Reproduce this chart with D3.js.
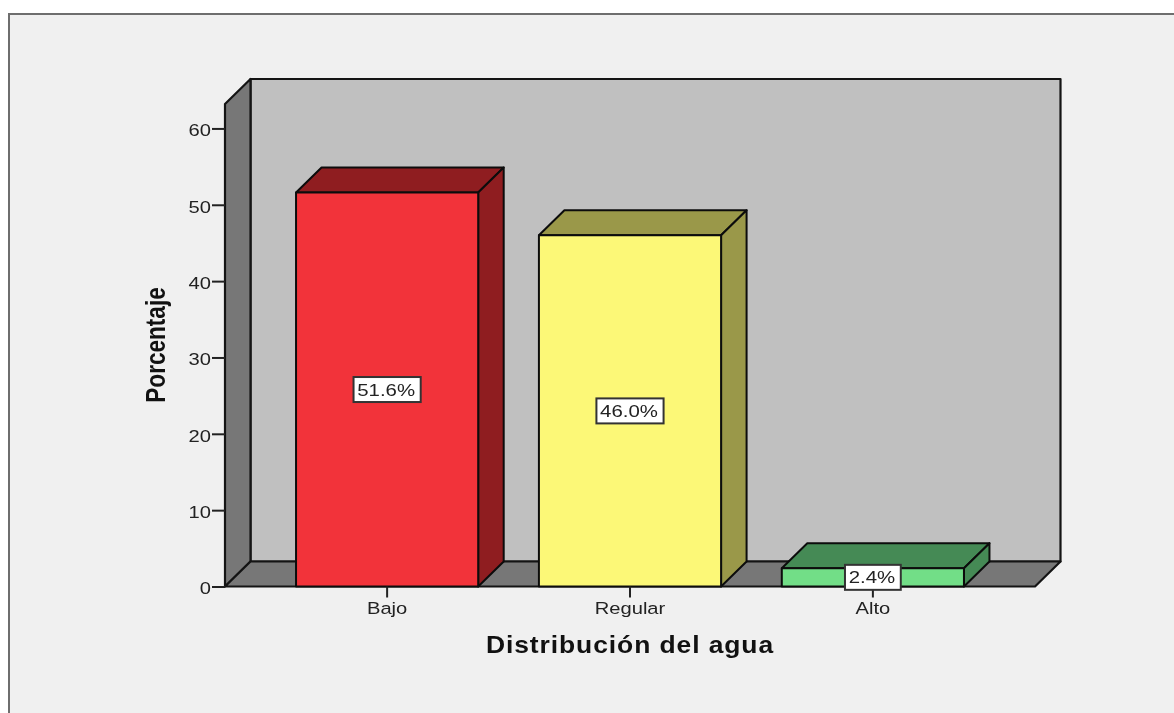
<!DOCTYPE html>
<html lang="en">
<head>
<meta charset="utf-8">
<title>Distribución del agua</title>
<script src="https://d3js.org/d3.v7.min.js"></script>
<style>
    html, body { margin: 0; padding: 0; background: #fff; overflow: hidden; }
    svg { filter: blur(0.45px); }
    text { font-family: 'Liberation Sans', Arial, sans-serif; fill: #222; }
    .wall { stroke: #141414; stroke-width: 2.2; stroke-linejoin: round; }
    .bar { stroke: #0c0c0c; stroke-width: 2; stroke-linejoin: round; }
    .axis path { display: none; }
    .axis line { stroke: #222; stroke-width: 2; }
    .axis text { font-size: 16px; fill: #222; }
</style>
</head>
<body>
<div id="container"></div>
<script>
    var categories = ["Bajo", "Regular", "Alto"];
    var values = [51.6, 46.0, 2.4];
    var labels = ["51.6%", "46.0%", "2.4%"];
    var faceColors = ["#f2333a", "#fcf877", "#72de87"];
    var shadeColors = ["#8f1d20", "#9a9849", "#458a55"];
    var yTicks = [0, 10, 20, 30, 40, 50, 60];

    var w = 1174;
    var h = 713;
    var dx = 25.5;   // depth of the 3d box
    var dy = -25;

    var svg = d3.select("div#container")
        .append("svg")
        .attr("width", w)
        .attr("height", h)
        .style("display", "block");

    // frame
    svg.append("rect")
        .attr("x", 9).attr("y", 14)
        .attr("width", w + 20).attr("height", h + 20)
        .attr("fill", "#f0f0f0")
        .attr("stroke", "#6e6e6e")
        .attr("stroke-width", 2);

    var x = d3.scaleBand()
        .domain(categories)
        .range([225, 1035])
        .paddingInner(0.25)
        .paddingOuter(0.2925);

    var y = d3.scaleLinear()
        .domain([0, 63.2])
        .range([586.5, 104]);

    var line = d3.line();
    var x0 = x.range()[0], x1 = x.range()[1];
    var y0 = y(0), yTop = y(63.2);

    // back wall
    svg.append("path").attr("class", "wall")
        .attr("fill", "#c0c0c0")
        .attr("d", line([[x0 + dx, y0 + dy], [x0 + dx, yTop + dy], [x1 + dx, yTop + dy], [x1 + dx, y0 + dy]]) + "Z");

    // side wall
    svg.append("path").attr("class", "wall")
        .attr("fill", "#777777")
        .attr("d", line([[x0, y0], [x0, yTop], [x0 + dx, yTop + dy], [x0 + dx, y0 + dy]]) + "Z");

    // floor
    svg.append("path").attr("class", "wall")
        .attr("fill", "#777777")
        .attr("d", line([[x0, y0], [x0 + dx, y0 + dy], [x1 + dx, y0 + dy], [x1, y0]]) + "Z");

    // bars
    var bars = svg.selectAll("g.barGroup")
        .data(categories)
        .enter()
        .append("g")
        .attr("class", "barGroup");

    bars.append("path").attr("class", "bar")
        .attr("fill", function (d, i) { return shadeColors[i]; })
        .attr("d", function (d, i) {
            var l = x(d), r = l + x.bandwidth(), t = y(values[i]);
            return line([[l, t], [l + dx, t + dy], [r + dx, t + dy], [r, t]]) + "Z";
        });

    bars.append("path").attr("class", "bar")
        .attr("fill", function (d, i) { return shadeColors[i]; })
        .attr("d", function (d, i) {
            var r = x(d) + x.bandwidth(), t = y(values[i]);
            return line([[r, t], [r + dx, t + dy], [r + dx, y0 + dy], [r, y0]]) + "Z";
        });

    bars.append("rect").attr("class", "bar")
        .attr("fill", function (d, i) { return faceColors[i]; })
        .attr("x", function (d) { return x(d); })
        .attr("width", x.bandwidth())
        .attr("y", function (d, i) { return y(values[i]); })
        .attr("height", function (d, i) { return y0 - y(values[i]); });

    // axes, labels are stretched sideways like the original export
    svg.append("g").attr("class", "axis")
        .attr("transform", "translate(" + x0 + ",0)")
        .call(d3.axisLeft(y).tickValues(yTicks).tickSize(13).tickFormat(d3.format("d")))
        .selectAll("text")
        .attr("x", null)
        .attr("transform", "translate(-14,2) scale(1.26,1.05)");

    svg.append("g").attr("class", "axis")
        .attr("transform", "translate(0," + y0 + ")")
        .call(d3.axisBottom(x).tickSize(11))
        .selectAll("text")
        .attr("y", null)
        .attr("transform", "translate(0,16) scale(1.26,1.05)");

    // axis titles
    svg.append("text")
        .attr("text-anchor", "middle")
        .attr("transform", "translate(630,652.5) scale(1.15,1)")
        .style("font-size", "23px")
        .style("font-weight", "bold")
        .style("letter-spacing", "0.8px")
        .style("fill", "#111")
        .text("Distribución del agua");

    svg.append("text")
        .attr("text-anchor", "middle")
        .attr("transform", "translate(165,345) rotate(-90) scale(1.13,1.35)")
        .style("font-size", "20px")
        .style("font-weight", "bold")
        .style("fill", "#111")
        .text("Porcentaje");

    // value labels
    var tags = svg.selectAll("g.tag")
        .data(categories)
        .enter()
        .append("g")
        .attr("class", "tag")
        .attr("transform", function (d, i) {
            return "translate(" + (x(d) + x.bandwidth() / 2) + "," + y(values[i] / 2) + ")";
        });

    tags.append("text")
        .attr("text-anchor", "middle")
        .attr("dy", "0.36em")
        .attr("transform", "translate(-1,0) scale(1.2,1)")
        .style("font-size", "17px")
        .style("fill", "#222")
        .text(function (d, i) { return labels[i]; });

    tags.each(function () {
        var g = d3.select(this);
        var b = g.select("text").node().getBBox();
        g.insert("rect", "text")
            .attr("x", -b.width * 1.2 / 2 - 4.5)
            .attr("width", b.width * 1.2 + 9)
            .attr("y", -12.5)
            .attr("height", 25)
            .attr("fill", "#fff")
            .attr("stroke", "#333")
            .attr("stroke-width", 2);
    });
</script>
</body>
</html>
